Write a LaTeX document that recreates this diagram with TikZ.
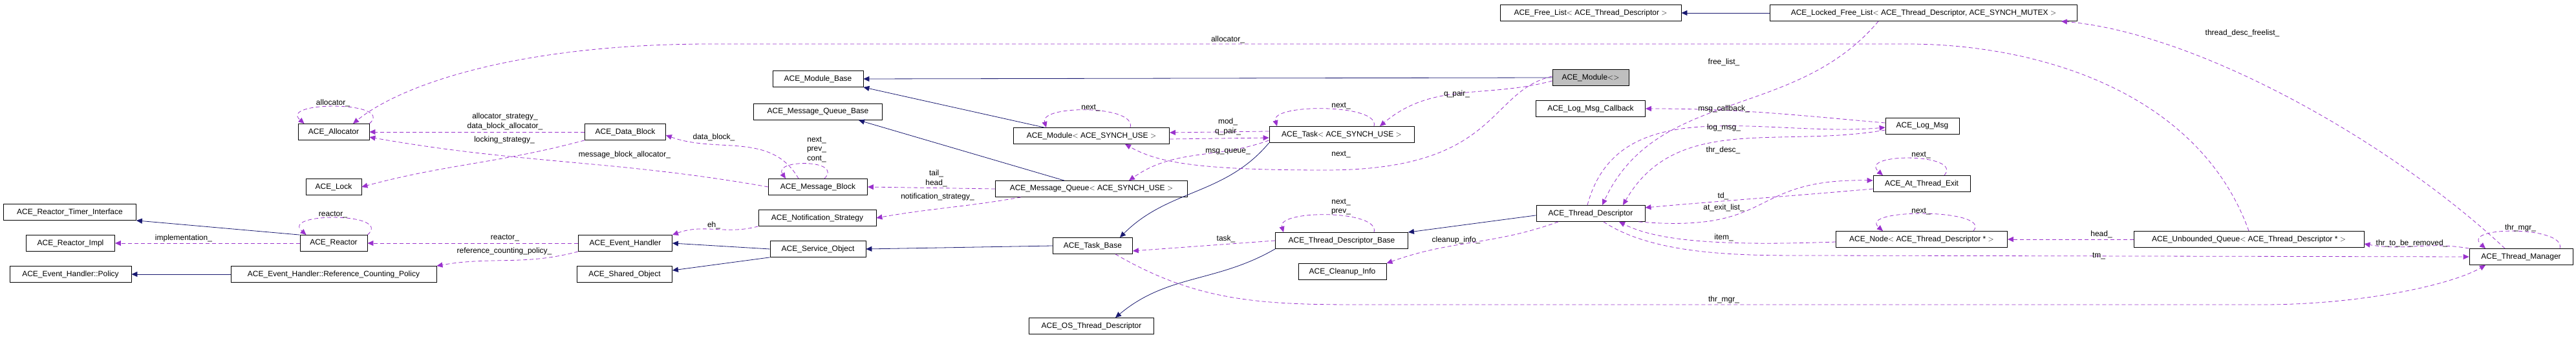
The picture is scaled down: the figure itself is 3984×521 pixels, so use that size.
\documentclass[tikz,border=0pt]{standalone}
\usepackage{fontspec}
\setmainfont{Liberation Sans}
\usetikzlibrary{arrows.meta}

\definecolor{inhcol}{HTML}{191970}
\definecolor{usecol}{HTML}{9A32CD}

\begin{document}
\begin{tikzpicture}[x=1pt,y=1pt,>={Triangle[length=9pt,width=8pt]},
    font=\fontsize{12}{14.5}\selectfont]

  \tikzset{cls/.style={draw=black,fill=white,thick,minimum height=25pt,inner sep=2pt},
           inh/.style={->,draw=inhcol,thick},
           use/.style={->,draw=usecol,dash pattern=on 6pt off 4pt,thick},
           lbl/.style={inner sep=0pt,align=center}}

  \useasboundingbox (0,0) rectangle (3984,521);

  % classes
  \node[cls,minimum width=110pt] (alloc)     at (516,317)  {ACE\_Allocator};
  \node[cls,minimum width=86pt]  (lock)      at (516,232)  {ACE\_Lock};
  \node[cls,minimum width=205pt] (rti)       at (108,193)  {ACE\_Reactor\_Timer\_Interface};
  \node[cls,minimum width=137pt] (rimpl)     at (109,145)  {ACE\_Reactor\_Impl};
  \node[cls,minimum width=104pt] (reactor)   at (516,145)  {ACE\_Reactor};
  \node[cls,minimum width=188pt] (policy)    at (109,97)   {ACE\_Event\_Handler::Policy};
  \node[cls,minimum width=318pt] (rcp)       at (516,97)   {ACE\_Event\_Handler::Reference\_Counting\_Policy};
  \node[cls,minimum width=125pt] (datablock) at (967,317)  {ACE\_Data\_Block};
  \node[cls,minimum width=145pt] (eh)        at (967,145)  {ACE\_Event\_Handler};
  \node[cls,minimum width=147pt] (shobj)     at (966,97)   {ACE\_Shared\_Object};
  \node[cls,minimum width=140pt] (modbase)   at (1265,399) {ACE\_Module\_Base};
  \node[cls,minimum width=199pt] (mqbase)    at (1265,348) {ACE\_Message\_Queue\_Base};
  \node[cls,minimum width=153pt] (mblock)    at (1265,232) {ACE\_Message\_Block};
  \node[cls,minimum width=182pt] (notif)     at (1264,184) {ACE\_Notification\_Strategy};
  \node[cls,minimum width=148pt] (svcobj)    at (1265,136) {ACE\_Service\_Object};
  \node[cls,minimum width=241pt] (modsu)     at (1688,311) {ACE\_Module$<$ ACE\_SYNCH\_USE $>$};
  \node[cls,minimum width=297pt] (mqsu)      at (1688,229) {ACE\_Message\_Queue$<$ ACE\_SYNCH\_USE $>$};
  \node[cls,minimum width=123pt] (taskbase)  at (1690,141) {ACE\_Task\_Base};
  \node[cls,minimum width=193pt] (osthr)     at (1688,17)  {ACE\_OS\_Thread\_Descriptor};
  \node[cls,minimum width=224pt] (tasksu)    at (2075,313) {ACE\_Task$<$ ACE\_SYNCH\_USE $>$};
  \node[cls,minimum width=205pt] (tdbase)    at (2075,149) {ACE\_Thread\_Descriptor\_Base};
  \node[cls,minimum width=280pt] (freelist)  at (2460,501) {ACE\_Free\_List$<$ ACE\_Thread\_Descriptor $>$};
  \node[cls,minimum width=475pt] (lockedfl)  at (2975,501) {ACE\_Locked\_Free\_List$<$ ACE\_Thread\_Descriptor, ACE\_SYNCH\_MUTEX $>$};
  \node[cls,minimum width=118pt,fill=black!25] (module) at (2460,401) {ACE\_Module$<$$>$};
  \node[cls,minimum width=169pt] (logcb)     at (2460,353) {ACE\_Log\_Msg\_Callback};
  \node[cls,minimum width=114pt] (logmsg)    at (2973,326) {ACE\_Log\_Msg};
  \node[cls,minimum width=168pt] (thrdesc)   at (2460,191) {ACE\_Thread\_Descriptor};
  \node[cls,minimum width=136pt] (cleanup)   at (2076,101) {ACE\_Cleanup\_Info};
  \node[cls,minimum width=150pt] (atexit)    at (2972,237) {ACE\_At\_Thread\_Exit};
  \node[cls,minimum width=265pt] (node)      at (2972,151) {ACE\_Node$<$ ACE\_Thread\_Descriptor * $>$};
  \node[cls,minimum width=356pt] (uqueue)    at (3478,151) {ACE\_Unbounded\_Queue$<$ ACE\_Thread\_Descriptor * $>$};
  \node[cls,minimum width=160pt] (thrmgr)    at (3899,124) {ACE\_Thread\_Manager};

  % inheritance
  \draw[inh] (reactor.north west) -- (rti.south east);
  \draw[inh] (rcp) -- (policy);
  \draw[inh] (svcobj.west) -- (eh.east);
  \draw[inh] (svcobj.south west) -- ([yshift=6pt]shobj.east);
  \draw[inh] (taskbase.west) -- (svcobj.east);
  \draw[inh] (tasksu.south west) to[out=-130,in=45] ([xshift=42pt]taskbase.north);
  \draw[inh] (module.west) -- (modbase.east);
  \draw[inh] ([xshift=-73pt]modsu.north) -- (modbase.south east);
  \draw[inh] ([xshift=-42pt]mqsu.north) -- ([xshift=63pt]mqbase.south);
  \draw[inh] ([yshift=10pt]thrdesc.south west) -- (tdbase.north east);
  \draw[inh] (tdbase.south west) to[out=-150,in=40] ([xshift=37pt]osthr.north);
  \draw[inh] (lockedfl) -- (freelist);

  % usage
  \draw[use] (uqueue.north) .. controls (3400,380) and (3150,453) .. (2950,453)
        -- (1100,453) .. controls (800,453) and (620,390) .. ([xshift=30pt]alloc.north);
  \draw[use] (alloc.north east) .. controls +(40,35) and +(-40,35) .. ([xshift=10pt]alloc.north west);
  \draw[use] (datablock.west) -- (alloc.east);
  \draw[use] (datablock.south west) to[out=195,in=15] (lock.east);
  \draw[use] (mblock.west) to[out=170,in=-10] ([yshift=-8pt]alloc.east);
  \draw[use] ([xshift=-30pt]mblock.north) to[out=120,in=-20] ([yshift=-5pt]datablock.east);
  \draw[use] ([xshift=10pt]mblock.north) .. controls +(30,30) and +(-20,30) .. ([xshift=-50pt]mblock.north);
  \draw[use] (mqsu.west) -- (mblock.east);
  \draw[use] ([xshift=40pt]mqsu.south west) to[out=190,in=10] (notif.east);
  \draw[use] (notif.south west) to[out=195,in=20] (eh.north east);
  \draw[use] (reactor.north east) .. controls +(40,35) and +(-40,35) .. ([xshift=10pt]reactor.north west);
  \draw[use] (reactor) -- (rimpl);
  \draw[use] (eh) -- (reactor);
  \draw[use] (eh.south west) to[out=195,in=10] (rcp.north east);
  \draw[use] ([xshift=60pt]modsu.north) .. controls +(10,35) and +(-10,35) .. ([xshift=-70pt]modsu.north);
  \draw[use] ([yshift=5pt]tasksu.west) -- ([yshift=5pt]modsu.east);
  \draw[use] ([yshift=-5pt]modsu.east) -- ([yshift=-5pt]tasksu.west);
  \draw[use] ([yshift=4pt]tasksu.south west) to[out=200,in=35] ([xshift=58pt]mqsu.north);
  \draw[use] ([yshift=-5pt]module.west) to[out=195,in=40] ([xshift=59pt]tasksu.north);
  \draw[use] ([yshift=2pt]module.west) .. controls (2300,380) and (2320,258) .. (2050,258)
        .. controls (1850,258) and (1790,270) .. ([xshift=52pt]modsu.south);
  \draw[use] ([xshift=50pt]tasksu.north) .. controls +(10,35) and +(-10,35) .. ([xshift=-100pt]tasksu.north);
  \draw[use] ([xshift=50pt]tdbase.north) .. controls +(10,35) and +(-10,35) .. ([xshift=-90pt]tdbase.north);
  \draw[use] (tdbase.west) -- ([yshift=-8pt]taskbase.east);
  \draw[use] ([xshift=-50pt]thrdesc.south) to[out=200,in=20] (cleanup.north east);
  \draw[use] ([xshift=-70pt]lockedfl.south) to[out=230,in=65] ([xshift=18pt]thrdesc.north);
  \draw[use] ([yshift=5pt]logmsg.west) to[out=175,in=0] (logcb.east);
  \draw[use] ([xshift=-5pt]thrdesc.north) to[out=75,in=185] ([yshift=-2pt]logmsg.west);
  \draw[use] ([yshift=-6pt]logmsg.west) to[out=190,in=60] ([xshift=50pt]thrdesc.north);
  \draw[use] ([xshift=35pt]atexit.north) .. controls +(30,35) and +(-40,35) .. ([xshift=-60pt]atexit.north);
  \draw[use] ([yshift=-8pt]atexit.west) to[out=185,in=5] ([yshift=9pt]thrdesc.east);
  \draw[use] ([xshift=-10pt]thrdesc.south east) .. controls (2750,160) and (2700,245) .. ([yshift=5pt]atexit.west);
  \draw[use] ([xshift=80pt]node.north) .. controls +(30,35) and +(-40,35) .. ([xshift=-60pt]node.north);
  \draw[use] ([yshift=-4pt]node.west) .. controls (2650,140) and (2560,150) .. ([xshift=44pt]thrdesc.south);
  \draw[use] (uqueue) -- (node);
  \draw[use] (thrmgr.north west) to[out=170,in=-10] ([yshift=-7pt]uqueue.east);
  \draw[use] ([xshift=20pt]thrdesc.south) .. controls (2560,125) and (2700,126) .. (2800,126) -- (thrmgr.west);
  \draw[use] ([xshift=35pt]taskbase.south) .. controls (1850,55) and (1950,50) .. (2100,50)
        -- (3500,50) .. controls (3650,50) and (3790,80) .. ([xshift=-55pt]thrmgr.south);
  \draw[use] ([xshift=60pt]thrmgr.north) .. controls +(10,35) and +(-40,35) .. ([xshift=-55pt]thrmgr.north);
  \draw[use] ([xshift=-25pt]thrmgr.north) .. controls (3700,300) and (3400,470) .. ([xshift=-25pt]lockedfl.south east);

  % labels
  \node[lbl] (lallocA)  at (1899,460) {allocator\_};
  \node[lbl] (lallocB)  at (515,362)  {allocator\_};
  \node[lbl] (lstrat)   at (781,333)  {allocator\_strategy\_\\data\_block\_allocator\_};
  \node[lbl] (llock)    at (780,305)  {locking\_strategy\_};
  \node[lbl] (lmba)     at (966,282)  {message\_block\_allocator\_};
  \node[lbl] (lreactA)  at (515,189)  {reactor\_};
  \node[lbl] (limpl)    at (284,153)  {implementation\_};
  \node[lbl] (lreactB)  at (781,153)  {reactor\_};
  \node[lbl] (lrcp)     at (780,133)  {reference\_counting\_policy\_};
  \node[lbl] (ldb)      at (1104,309) {data\_block\_};
  \node[lbl] (lnpc)     at (1263,290) {next\_\\prev\_\\cont\_};
  \node[lbl] (lth)      at (1448,245) {tail\_\\head\_};
  \node[lbl] (lnotif)   at (1450,217) {notification\_strategy\_};
  \node[lbl] (leh)      at (1104,173) {eh\_};
  \node[lbl] (lnextA)   at (1687,354) {next\_};
  \node[lbl] (lmod)     at (1899,325) {mod\_\\q\_pair\_};
  \node[lbl] (lmq)      at (1899,286) {msg\_queue\_};
  \node[lbl] (ltask)    at (1896,152) {task\_};
  \node[lbl] (lqpair)   at (2253,376) {q\_pair\_};
  \node[lbl] (lnextB)   at (2074,357) {next\_};
  \node[lbl] (lnextC)   at (2074,282) {next\_};
  \node[lbl] (lnp)      at (2074,201) {next\_\\prev\_};
  \node[lbl] (lclean)   at (2252,150) {cleanup\_info\_};
  \node[lbl] (lfree)    at (2666,425) {free\_list\_};
  \node[lbl] (lcb)      at (2666,353) {msg\_callback\_};
  \node[lbl] (llog)     at (2666,324) {log\_msg\_};
  \node[lbl] (ltd)      at (2665,289) {thr\_desc\_};
  \node[lbl] (ltdx)     at (2665,218) {td\_};
  \node[lbl] (lexit)    at (2666,200) {at\_exit\_list\_};
  \node[lbl] (litem)    at (2666,154) {item\_};
  \node[lbl] (lmgrA)    at (2666,58)  {thr\_mgr\_};
  \node[lbl] (lnextD)   at (2971,281) {next\_};
  \node[lbl] (lnextE)   at (2971,194) {next\_};
  \node[lbl] (lfl)      at (3468,470) {thread\_desc\_freelist\_};
  \node[lbl] (lhead)    at (3250,159) {head\_};
  \node[lbl] (lrem)     at (3730,145) {thr\_to\_be\_removed\_};
  \node[lbl] (ltm)      at (3246,125) {tm\_};
  \node[lbl] (lmgrB)    at (3898,169) {thr\_mgr\_};
\end{tikzpicture}
\end{document}
